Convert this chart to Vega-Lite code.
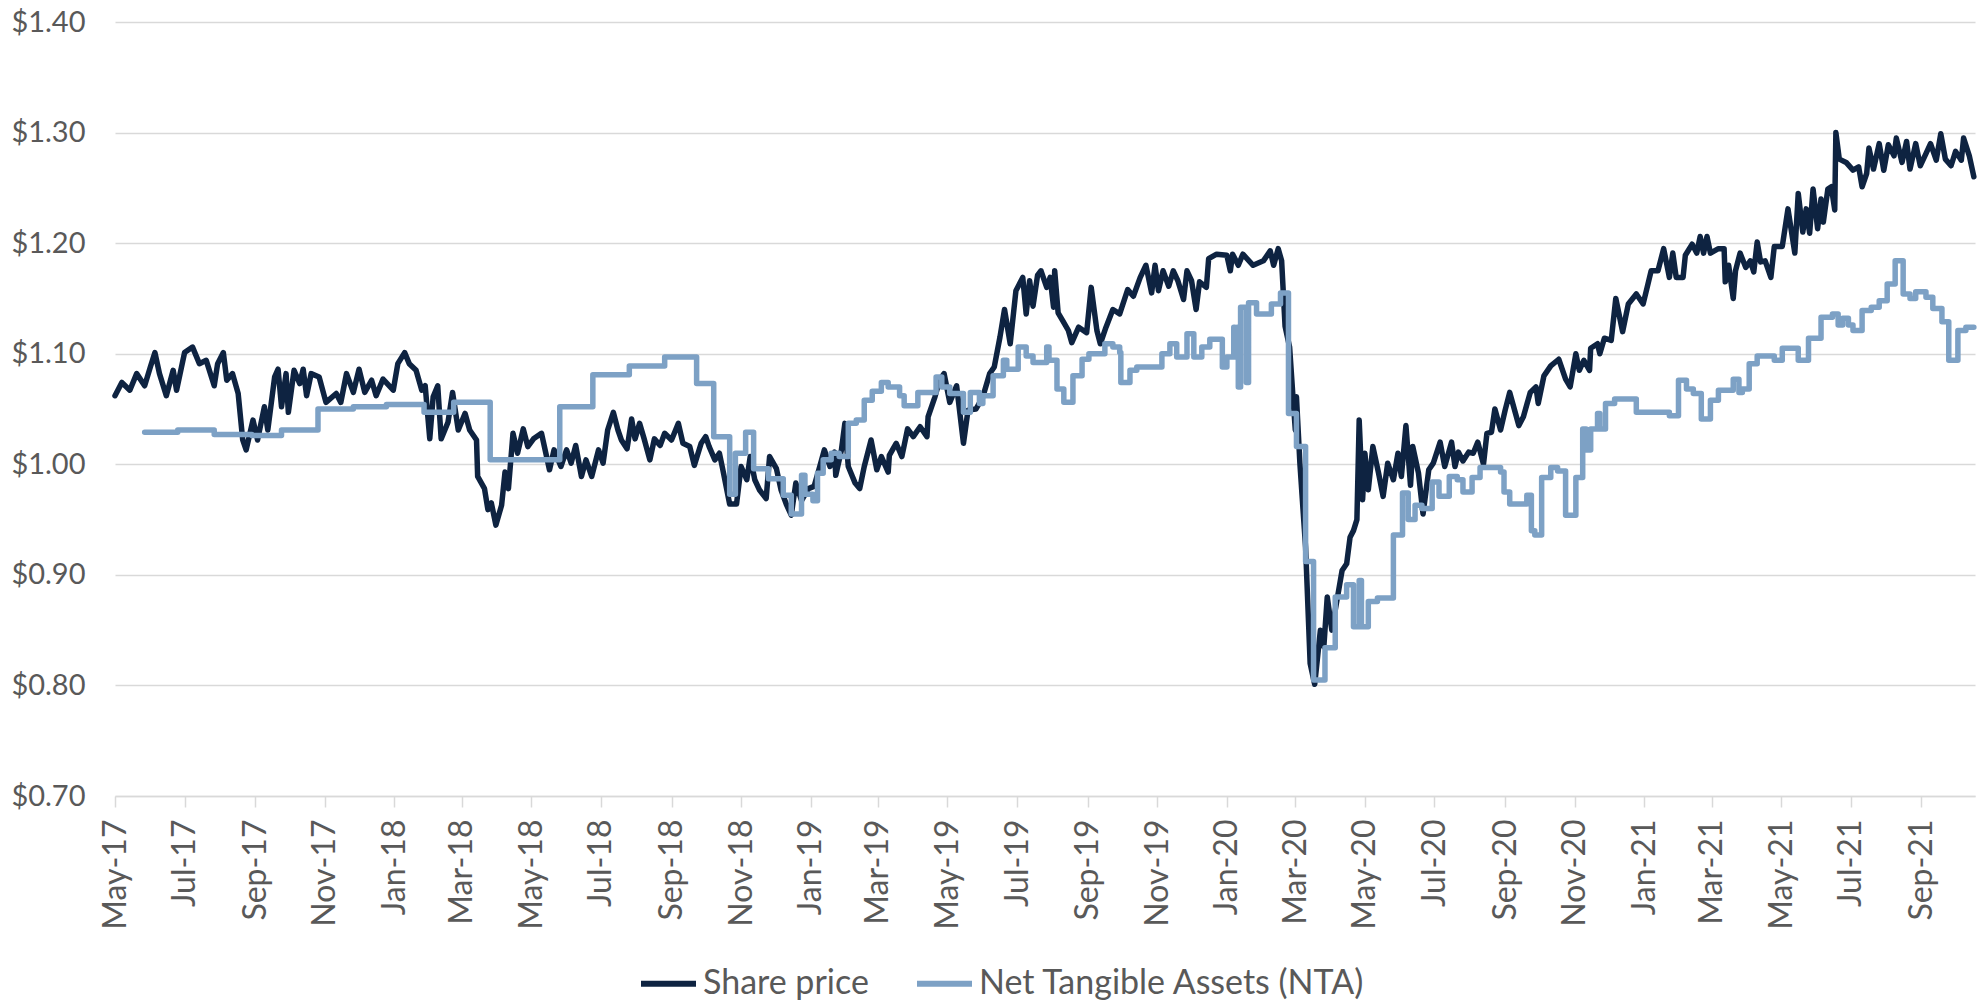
{
  "$schema": "https://vega.github.io/schema/vega-lite/v6.json",
  "width": 1860,
  "height": 774,
  "autosize": {"type": "none"},
  "padding": {"left": 115, "top": 22, "right": 2, "bottom": 209},
  "background": "white",
  "config": {"view": {"stroke": null}, "font": "Lato"},
  "datasets": {
    "share": [
      {"date":"2017-05-01","value":1.062},{"date":"2017-05-07","value":1.074},{"date":"2017-05-14","value":1.067},{"date":"2017-05-20","value":1.082},{"date":"2017-05-27","value":1.071},{"date":"2017-06-01","value":1.088},{"date":"2017-06-05","value":1.101},{"date":"2017-06-09","value":1.082},{"date":"2017-06-15","value":1.062},{"date":"2017-06-21","value":1.085},{"date":"2017-06-24","value":1.067},{"date":"2017-07-01","value":1.101},{"date":"2017-07-08","value":1.106},{"date":"2017-07-14","value":1.091},{"date":"2017-07-20","value":1.094},{"date":"2017-07-27","value":1.071},{"date":"2017-07-30","value":1.091},{"date":"2017-08-04","value":1.101},{"date":"2017-08-07","value":1.076},{"date":"2017-08-12","value":1.082},{"date":"2017-08-17","value":1.064},{"date":"2017-08-21","value":1.022},{"date":"2017-08-24","value":1.013},{"date":"2017-08-30","value":1.040},{"date":"2017-09-03","value":1.022},{"date":"2017-09-09","value":1.052},{"date":"2017-09-12","value":1.031},{"date":"2017-09-18","value":1.079},{"date":"2017-09-21","value":1.086},{"date":"2017-09-24","value":1.052},{"date":"2017-09-28","value":1.082},{"date":"2017-09-30","value":1.047},{"date":"2017-10-05","value":1.085},{"date":"2017-10-10","value":1.073},{"date":"2017-10-13","value":1.086},{"date":"2017-10-16","value":1.062},{"date":"2017-10-20","value":1.082},{"date":"2017-10-27","value":1.079},{"date":"2017-11-02","value":1.056},{"date":"2017-11-11","value":1.064},{"date":"2017-11-15","value":1.056},{"date":"2017-11-20","value":1.082},{"date":"2017-11-26","value":1.065},{"date":"2017-12-01","value":1.086},{"date":"2017-12-06","value":1.065},{"date":"2017-12-12","value":1.076},{"date":"2017-12-16","value":1.062},{"date":"2017-12-22","value":1.077},{"date":"2017-12-31","value":1.067},
      {"date":"2018-01-04","value":1.091},{"date":"2018-01-10","value":1.101},{"date":"2018-01-14","value":1.091},{"date":"2018-01-20","value":1.085},{"date":"2018-01-25","value":1.067},{"date":"2018-01-28","value":1.071},{"date":"2018-02-01","value":1.023},{"date":"2018-02-04","value":1.061},{"date":"2018-02-08","value":1.071},{"date":"2018-02-11","value":1.023},{"date":"2018-02-17","value":1.038},{"date":"2018-02-21","value":1.065},{"date":"2018-02-26","value":1.031},{"date":"2018-03-04","value":1.046},{"date":"2018-03-08","value":1.031},{"date":"2018-03-14","value":1.022},{"date":"2018-03-15","value":0.989},{"date":"2018-03-21","value":0.978},{"date":"2018-03-24","value":0.959},{"date":"2018-03-27","value":0.965},{"date":"2018-03-31","value":0.945},{"date":"2018-04-05","value":0.963},{"date":"2018-04-08","value":0.993},{"date":"2018-04-11","value":0.978},{"date":"2018-04-15","value":1.028},{"date":"2018-04-19","value":1.010},{"date":"2018-04-24","value":1.032},{"date":"2018-04-28","value":1.016},{"date":"2018-05-03","value":1.023},{"date":"2018-05-10","value":1.028},{"date":"2018-05-17","value":0.995},{"date":"2018-05-21","value":1.013},{"date":"2018-05-27","value":0.998},{"date":"2018-06-01","value":1.013},{"date":"2018-06-05","value":1.001},{"date":"2018-06-09","value":1.017},{"date":"2018-06-14","value":0.989},{"date":"2018-06-18","value":1.004},{"date":"2018-06-23","value":0.989},{"date":"2018-06-29","value":1.013},{"date":"2018-07-03","value":1.001},{"date":"2018-07-07","value":1.031},{"date":"2018-07-12","value":1.047},{"date":"2018-07-16","value":1.031},{"date":"2018-07-19","value":1.022},{"date":"2018-07-24","value":1.014},{"date":"2018-07-28","value":1.041},{"date":"2018-07-31","value":1.023},{"date":"2018-08-04","value":1.037},{"date":"2018-08-08","value":1.023},{"date":"2018-08-13","value":1.004},{"date":"2018-08-17","value":1.023},{"date":"2018-08-22","value":1.017},{"date":"2018-08-26","value":1.028},{"date":"2018-09-01","value":1.022},{"date":"2018-09-07","value":1.037},{"date":"2018-09-11","value":1.019},{"date":"2018-09-17","value":1.016},{"date":"2018-09-21","value":0.999},{"date":"2018-09-27","value":1.019},{"date":"2018-10-01","value":1.025},{"date":"2018-10-04","value":1.016},{"date":"2018-10-09","value":1.004},{"date":"2018-10-13","value":1.010},{"date":"2018-10-16","value":0.995},{"date":"2018-10-22","value":0.964},{"date":"2018-10-28","value":0.964},{"date":"2018-11-01","value":0.998},{"date":"2018-11-06","value":0.986},{"date":"2018-11-09","value":1.007},{"date":"2018-11-13","value":0.986},{"date":"2018-11-17","value":0.977},{"date":"2018-11-23","value":0.969},{"date":"2018-11-26","value":1.007},{"date":"2018-12-02","value":0.996},{"date":"2018-12-06","value":0.977},{"date":"2018-12-11","value":0.963},{"date":"2018-12-15","value":0.954},{"date":"2018-12-19","value":0.983},{"date":"2018-12-24","value":0.967},{"date":"2018-12-30","value":0.978},
      {"date":"2019-01-04","value":0.980},{"date":"2019-01-09","value":0.998},{"date":"2019-01-13","value":1.013},{"date":"2019-01-18","value":0.998},{"date":"2019-01-22","value":1.011},{"date":"2019-01-23","value":0.990},{"date":"2019-01-28","value":1.013},{"date":"2019-01-31","value":1.037},{"date":"2019-02-03","value":0.998},{"date":"2019-02-09","value":0.983},{"date":"2019-02-13","value":0.978},{"date":"2019-02-17","value":0.998},{"date":"2019-02-23","value":1.022},{"date":"2019-02-28","value":0.995},{"date":"2019-03-04","value":1.007},{"date":"2019-03-10","value":0.993},{"date":"2019-03-11","value":1.008},{"date":"2019-03-17","value":1.019},{"date":"2019-03-22","value":1.007},{"date":"2019-03-27","value":1.032},{"date":"2019-04-01","value":1.025},{"date":"2019-04-07","value":1.034},{"date":"2019-04-13","value":1.025},{"date":"2019-04-14","value":1.043},{"date":"2019-04-20","value":1.061},{"date":"2019-04-24","value":1.076},{"date":"2019-04-28","value":1.082},{"date":"2019-05-03","value":1.056},{"date":"2019-05-09","value":1.071},{"date":"2019-05-15","value":1.019},{"date":"2019-05-19","value":1.049},{"date":"2019-05-26","value":1.050},{"date":"2019-06-01","value":1.061},{"date":"2019-06-07","value":1.082},{"date":"2019-06-11","value":1.088},{"date":"2019-06-16","value":1.115},{"date":"2019-06-20","value":1.140},{"date":"2019-06-25","value":1.109},{"date":"2019-06-30","value":1.157},{"date":"2019-07-06","value":1.169},{"date":"2019-07-09","value":1.136},{"date":"2019-07-12","value":1.166},{"date":"2019-07-15","value":1.143},{"date":"2019-07-19","value":1.171},{"date":"2019-07-22","value":1.175},{"date":"2019-07-27","value":1.160},{"date":"2019-07-30","value":1.169},{"date":"2019-08-02","value":1.142},{"date":"2019-08-03","value":1.175},{"date":"2019-08-06","value":1.137},{"date":"2019-08-10","value":1.130},{"date":"2019-08-15","value":1.121},{"date":"2019-08-18","value":1.110},{"date":"2019-08-24","value":1.124},{"date":"2019-08-31","value":1.119},{"date":"2019-09-04","value":1.160},{"date":"2019-09-09","value":1.121},{"date":"2019-09-12","value":1.109},{"date":"2019-09-17","value":1.124},{"date":"2019-09-23","value":1.140},{"date":"2019-09-29","value":1.136},{"date":"2019-10-06","value":1.158},{"date":"2019-10-11","value":1.152},{"date":"2019-10-17","value":1.169},{"date":"2019-10-22","value":1.180},{"date":"2019-10-27","value":1.155},{"date":"2019-10-30","value":1.180},{"date":"2019-11-02","value":1.157},{"date":"2019-11-06","value":1.175},{"date":"2019-11-11","value":1.161},{"date":"2019-11-15","value":1.175},{"date":"2019-11-19","value":1.166},{"date":"2019-11-24","value":1.149},{"date":"2019-11-27","value":1.175},{"date":"2019-12-01","value":1.166},{"date":"2019-12-05","value":1.140},{"date":"2019-12-08","value":1.165},{"date":"2019-12-14","value":1.160},{"date":"2019-12-16","value":1.186},{"date":"2019-12-23","value":1.190},
      {"date":"2020-01-01","value":1.189},{"date":"2020-01-04","value":1.175},{"date":"2020-01-06","value":1.190},{"date":"2020-01-11","value":1.180},{"date":"2020-01-15","value":1.190},{"date":"2020-01-24","value":1.180},{"date":"2020-02-02","value":1.184},{"date":"2020-02-08","value":1.193},{"date":"2020-02-11","value":1.180},{"date":"2020-02-15","value":1.195},{"date":"2020-02-18","value":1.184},{"date":"2020-02-21","value":1.125},{"date":"2020-02-25","value":1.106},{"date":"2020-02-28","value":1.060},{"date":"2020-03-01","value":1.031},{"date":"2020-03-02","value":1.061},{"date":"2020-03-05","value":1.001},{"date":"2020-03-10","value":0.925},{"date":"2020-03-14","value":0.820},{"date":"2020-03-18","value":0.801},{"date":"2020-03-23","value":0.850},{"date":"2020-03-26","value":0.835},{"date":"2020-03-29","value":0.880},{"date":"2020-04-02","value":0.850},{"date":"2020-04-06","value":0.874},{"date":"2020-04-11","value":0.904},{"date":"2020-04-15","value":0.910},{"date":"2020-04-18","value":0.934},{"date":"2020-04-21","value":0.940},{"date":"2020-04-24","value":0.950},{"date":"2020-04-26","value":1.040},{"date":"2020-04-29","value":0.968},{"date":"2020-05-01","value":1.010},{"date":"2020-05-04","value":0.977},{"date":"2020-05-08","value":1.016},{"date":"2020-05-13","value":0.992},{"date":"2020-05-17","value":0.971},{"date":"2020-05-21","value":1.001},{"date":"2020-05-26","value":0.986},{"date":"2020-05-30","value":1.010},{"date":"2020-06-02","value":0.989},{"date":"2020-06-06","value":1.035},{"date":"2020-06-10","value":0.981},{"date":"2020-06-12","value":1.016},{"date":"2020-06-17","value":0.992},{"date":"2020-06-21","value":0.955},{"date":"2020-06-26","value":0.995},{"date":"2020-06-30","value":1.001},{"date":"2020-07-06","value":1.020},{"date":"2020-07-10","value":0.998},{"date":"2020-07-16","value":1.020},{"date":"2020-07-19","value":0.998},{"date":"2020-07-22","value":1.011},{"date":"2020-07-26","value":1.003},{"date":"2020-07-31","value":1.011},{"date":"2020-08-04","value":1.010},{"date":"2020-08-08","value":1.020},{"date":"2020-08-13","value":1.000},{"date":"2020-08-16","value":1.028},{"date":"2020-08-20","value":1.029},{"date":"2020-08-23","value":1.050},{"date":"2020-08-28","value":1.031},{"date":"2020-09-01","value":1.049},{"date":"2020-09-05","value":1.065},{"date":"2020-09-13","value":1.035},{"date":"2020-09-17","value":1.043},{"date":"2020-09-23","value":1.065},{"date":"2020-09-28","value":1.070},{"date":"2020-09-30","value":1.055},{"date":"2020-10-05","value":1.080},{"date":"2020-10-11","value":1.089},{"date":"2020-10-18","value":1.095},{"date":"2020-10-24","value":1.077},{"date":"2020-10-28","value":1.070},{"date":"2020-11-02","value":1.100},{"date":"2020-11-05","value":1.085},{"date":"2020-11-09","value":1.094},{"date":"2020-11-14","value":1.085},{"date":"2020-11-15","value":1.105},{"date":"2020-11-21","value":1.109},{"date":"2020-11-23","value":1.100},{"date":"2020-11-27","value":1.114},{"date":"2020-12-03","value":1.112},{"date":"2020-12-07","value":1.150},{"date":"2020-12-13","value":1.120},{"date":"2020-12-18","value":1.145},{"date":"2020-12-25","value":1.154},{"date":"2020-12-31","value":1.145},
      {"date":"2021-01-04","value":1.162},{"date":"2021-01-07","value":1.175},{"date":"2021-01-13","value":1.175},{"date":"2021-01-18","value":1.195},{"date":"2021-01-23","value":1.169},{"date":"2021-01-26","value":1.191},{"date":"2021-01-29","value":1.169},{"date":"2021-02-04","value":1.169},{"date":"2021-02-06","value":1.189},{"date":"2021-02-12","value":1.199},{"date":"2021-02-16","value":1.191},{"date":"2021-02-19","value":1.206},{"date":"2021-02-22","value":1.191},{"date":"2021-02-25","value":1.206},{"date":"2021-02-28","value":1.191},{"date":"2021-03-07","value":1.195},{"date":"2021-03-12","value":1.195},{"date":"2021-03-13","value":1.165},{"date":"2021-03-16","value":1.180},{"date":"2021-03-20","value":1.150},{"date":"2021-03-22","value":1.175},{"date":"2021-03-26","value":1.191},{"date":"2021-03-31","value":1.178},{"date":"2021-04-04","value":1.184},{"date":"2021-04-07","value":1.174},{"date":"2021-04-10","value":1.201},{"date":"2021-04-13","value":1.183},{"date":"2021-04-17","value":1.184},{"date":"2021-04-22","value":1.169},{"date":"2021-04-25","value":1.197},{"date":"2021-05-02","value":1.197},{"date":"2021-05-07","value":1.231},{"date":"2021-05-13","value":1.191},{"date":"2021-05-16","value":1.245},{"date":"2021-05-20","value":1.210},{"date":"2021-05-23","value":1.231},{"date":"2021-05-26","value":1.209},{"date":"2021-05-29","value":1.249},{"date":"2021-06-02","value":1.213},{"date":"2021-06-05","value":1.240},{"date":"2021-06-07","value":1.219},{"date":"2021-06-11","value":1.249},{"date":"2021-06-14","value":1.251},{"date":"2021-06-17","value":1.230},{"date":"2021-06-18","value":1.300},{"date":"2021-06-21","value":1.276},{"date":"2021-06-27","value":1.273},{"date":"2021-07-03","value":1.266},{"date":"2021-07-08","value":1.269},{"date":"2021-07-11","value":1.251},{"date":"2021-07-15","value":1.263},{"date":"2021-07-17","value":1.286},{"date":"2021-07-21","value":1.267},{"date":"2021-07-26","value":1.290},{"date":"2021-07-30","value":1.266},{"date":"2021-08-03","value":1.289},{"date":"2021-08-08","value":1.279},{"date":"2021-08-10","value":1.295},{"date":"2021-08-15","value":1.273},{"date":"2021-08-19","value":1.292},{"date":"2021-08-22","value":1.267},{"date":"2021-08-27","value":1.290},{"date":"2021-08-31","value":1.270},{"date":"2021-09-05","value":1.281},{"date":"2021-09-09","value":1.290},{"date":"2021-09-14","value":1.275},{"date":"2021-09-18","value":1.299},{"date":"2021-09-22","value":1.276},{"date":"2021-09-27","value":1.270},{"date":"2021-10-01","value":1.283},{"date":"2021-10-06","value":1.275},{"date":"2021-10-08","value":1.295},{"date":"2021-10-13","value":1.279},{"date":"2021-10-17","value":1.260}
    ],
    "nta": [
      {"date":"2017-05-27","value":1.029},{"date":"2017-06-25","value":1.031},{"date":"2017-07-27","value":1.027},{"date":"2017-08-29","value":1.026},{"date":"2017-09-24","value":1.031},{"date":"2017-10-26","value":1.050},{"date":"2017-11-26","value":1.052},{"date":"2017-12-25","value":1.054},{"date":"2018-01-27","value":1.047},{"date":"2018-02-22","value":1.056},{"date":"2018-03-26","value":1.004},{"date":"2018-05-26","value":1.052},{"date":"2018-06-24","value":1.081},{"date":"2018-07-26","value":1.089},{"date":"2018-08-26","value":1.097},{"date":"2018-09-23","value":1.073},{"date":"2018-10-08","value":1.025},{"date":"2018-10-22","value":0.973},{"date":"2018-10-27","value":1.010},{"date":"2018-11-05","value":1.029},{"date":"2018-11-12","value":0.996},{"date":"2018-11-25","value":0.987},{"date":"2018-12-08","value":0.972},{"date":"2018-12-15","value":0.955},{"date":"2018-12-24","value":0.990},{"date":"2018-12-27","value":0.973},
      {"date":"2019-01-03","value":0.967},{"date":"2019-01-07","value":0.992},{"date":"2019-01-12","value":1.004},{"date":"2019-01-19","value":1.010},{"date":"2019-01-26","value":1.007},{"date":"2019-02-03","value":1.037},{"date":"2019-02-10","value":1.040},{"date":"2019-02-17","value":1.058},{"date":"2019-02-24","value":1.066},{"date":"2019-03-04","value":1.074},{"date":"2019-03-10","value":1.070},{"date":"2019-03-20","value":1.062},{"date":"2019-03-24","value":1.053},{"date":"2019-04-05","value":1.065},{"date":"2019-04-21","value":1.079},{"date":"2019-04-26","value":1.070},{"date":"2019-05-03","value":1.064},{"date":"2019-05-15","value":1.047},{"date":"2019-05-21","value":1.065},{"date":"2019-05-29","value":1.055},{"date":"2019-06-01","value":1.062},{"date":"2019-06-10","value":1.080},{"date":"2019-06-19","value":1.094},{"date":"2019-06-22","value":1.086},{"date":"2019-07-02","value":1.106},{"date":"2019-07-09","value":1.098},{"date":"2019-07-15","value":1.092},{"date":"2019-07-27","value":1.106},{"date":"2019-07-29","value":1.094},{"date":"2019-08-05","value":1.068},{"date":"2019-08-11","value":1.056},{"date":"2019-08-19","value":1.080},{"date":"2019-08-27","value":1.095},{"date":"2019-09-02","value":1.100},{"date":"2019-09-16","value":1.109},{"date":"2019-09-23","value":1.106},{"date":"2019-09-29","value":1.101},{"date":"2019-09-30","value":1.074},{"date":"2019-10-08","value":1.085},{"date":"2019-10-14","value":1.088},{"date":"2019-11-05","value":1.100},{"date":"2019-11-12","value":1.109},{"date":"2019-11-18","value":1.097},{"date":"2019-11-27","value":1.118},{"date":"2019-12-03","value":1.097},{"date":"2019-12-10","value":1.106},{"date":"2019-12-17","value":1.113},{"date":"2019-12-28","value":1.088},
      {"date":"2020-01-01","value":1.097},{"date":"2020-01-07","value":1.124},{"date":"2020-01-08","value":1.097},{"date":"2020-01-10","value":1.124},{"date":"2020-01-11","value":1.070},{"date":"2020-01-13","value":1.142},{"date":"2020-01-18","value":1.074},{"date":"2020-01-20","value":1.146},{"date":"2020-01-27","value":1.136},{"date":"2020-02-09","value":1.145},{"date":"2020-02-17","value":1.155},{"date":"2020-02-24","value":1.046},{"date":"2020-03-02","value":1.016},{"date":"2020-03-10","value":0.912},{"date":"2020-03-17","value":0.805},{"date":"2020-03-27","value":0.834},{"date":"2020-04-05","value":0.880},{"date":"2020-04-15","value":0.891},{"date":"2020-04-21","value":0.853},{"date":"2020-04-26","value":0.895},{"date":"2020-04-28","value":0.853},{"date":"2020-05-04","value":0.876},{"date":"2020-05-12","value":0.879},{"date":"2020-05-26","value":0.936},{"date":"2020-06-03","value":0.974},{"date":"2020-06-08","value":0.950},{"date":"2020-06-14","value":0.963},{"date":"2020-06-20","value":0.960},{"date":"2020-06-29","value":0.984},{"date":"2020-07-05","value":0.971},{"date":"2020-07-14","value":0.989},{"date":"2020-07-21","value":0.986},{"date":"2020-07-26","value":0.975},{"date":"2020-08-03","value":0.988},{"date":"2020-08-10","value":0.997},{"date":"2020-08-28","value":0.993},{"date":"2020-08-31","value":0.975},{"date":"2020-09-05","value":0.964},{"date":"2020-09-20","value":0.972},{"date":"2020-09-24","value":0.940},{"date":"2020-09-27","value":0.936},{"date":"2020-10-03","value":0.988},{"date":"2020-10-11","value":0.997},{"date":"2020-10-17","value":0.994},{"date":"2020-10-24","value":0.954},{"date":"2020-11-02","value":0.988},{"date":"2020-11-08","value":1.032},{"date":"2020-11-11","value":1.013},{"date":"2020-11-15","value":1.032},{"date":"2020-11-21","value":1.046},{"date":"2020-11-23","value":1.032},{"date":"2020-11-28","value":1.055},{"date":"2020-12-06","value":1.059},{"date":"2020-12-25","value":1.047},
      {"date":"2021-01-23","value":1.044},{"date":"2021-01-31","value":1.076},{"date":"2021-02-07","value":1.068},{"date":"2021-02-13","value":1.064},{"date":"2021-02-20","value":1.041},{"date":"2021-02-28","value":1.058},{"date":"2021-03-07","value":1.067},{"date":"2021-03-20","value":1.077},{"date":"2021-03-25","value":1.065},{"date":"2021-03-28","value":1.068},{"date":"2021-04-03","value":1.091},{"date":"2021-04-10","value":1.098},{"date":"2021-04-25","value":1.094},{"date":"2021-05-02","value":1.105},{"date":"2021-05-16","value":1.094},{"date":"2021-05-25","value":1.114},{"date":"2021-06-05","value":1.133},{"date":"2021-06-15","value":1.136},{"date":"2021-06-20","value":1.126},{"date":"2021-06-24","value":1.132},{"date":"2021-06-29","value":1.126},{"date":"2021-07-03","value":1.121},{"date":"2021-07-11","value":1.139},{"date":"2021-07-19","value":1.142},{"date":"2021-07-26","value":1.148},{"date":"2021-08-02","value":1.163},{"date":"2021-08-09","value":1.184},{"date":"2021-08-16","value":1.154},{"date":"2021-08-22","value":1.150},{"date":"2021-08-27","value":1.156},{"date":"2021-09-05","value":1.151},{"date":"2021-09-11","value":1.141},{"date":"2021-09-19","value":1.129},{"date":"2021-09-25","value":1.094},{"date":"2021-10-03","value":1.121},{"date":"2021-10-10","value":1.124},{"date":"2021-10-17","value":1.124}
    ]
  },
  "encoding": {
    "x": {
      "field": "date",
      "type": "temporal",
      "scale": {
        "type": "utc",
        "domain": [
          {"year": 2017, "month": 5, "date": 1, "utc": true},
          {"year": 2021, "month": 10, "date": 18, "utc": true}
        ]
      },
      "axis": {
        "title": null,
        "grid": false,
        "values": [
          {"year":2017,"month":5,"date":1,"utc":true},{"year":2017,"month":7,"date":1,"utc":true},{"year":2017,"month":9,"date":1,"utc":true},{"year":2017,"month":11,"date":1,"utc":true},
          {"year":2018,"month":1,"date":1,"utc":true},{"year":2018,"month":3,"date":1,"utc":true},{"year":2018,"month":5,"date":1,"utc":true},{"year":2018,"month":7,"date":1,"utc":true},{"year":2018,"month":9,"date":1,"utc":true},{"year":2018,"month":11,"date":1,"utc":true},
          {"year":2019,"month":1,"date":1,"utc":true},{"year":2019,"month":3,"date":1,"utc":true},{"year":2019,"month":5,"date":1,"utc":true},{"year":2019,"month":7,"date":1,"utc":true},{"year":2019,"month":9,"date":1,"utc":true},{"year":2019,"month":11,"date":1,"utc":true},
          {"year":2020,"month":1,"date":1,"utc":true},{"year":2020,"month":3,"date":1,"utc":true},{"year":2020,"month":5,"date":1,"utc":true},{"year":2020,"month":7,"date":1,"utc":true},{"year":2020,"month":9,"date":1,"utc":true},{"year":2020,"month":11,"date":1,"utc":true},
          {"year":2021,"month":1,"date":1,"utc":true},{"year":2021,"month":3,"date":1,"utc":true},{"year":2021,"month":5,"date":1,"utc":true},{"year":2021,"month":7,"date":1,"utc":true},{"year":2021,"month":9,"date":1,"utc":true}
        ],
        "format": "%b-%y",
        "labelAngle": -90,
        "labelOverlap": false,
        "labelFontSize": 32,
        "labelColor": "#595959",
        "labelPadding": 12,
        "tickSize": 11,
        "tickColor": "#D9D9D9",
        "tickWidth": 1.5,
        "domainColor": "#D9D9D9",
        "domainWidth": 1.5
      }
    },
    "y": {
      "field": "value",
      "type": "quantitative",
      "scale": {"domain": [0.7, 1.4], "nice": false, "zero": false},
      "axis": {
        "title": null,
        "values": [0.7, 0.8, 0.9, 1.0, 1.1, 1.2, 1.3, 1.4],
        "format": "$.2f",
        "grid": true,
        "gridColor": "#D9D9D9",
        "gridWidth": 1.5,
        "domain": false,
        "ticks": false,
        "tickSize": 0,
        "labelPadding": 30,
        "labelFontSize": 29,
        "labelColor": "#595959"
      }
    }
  },
  "layer": [
    {
      "data": {"name": "share"},
      "mark": {"type": "line", "strokeWidth": 5.5, "strokeJoin": "round", "strokeCap": "round"},
      "encoding": {
        "color": {
          "datum": "Share price",
          "type": "nominal",
          "scale": {
            "domain": ["Share price", "Net Tangible Assets (NTA)"],
            "range": ["#0E2341", "#7DA1C5"]
          },
          "legend": {
            "title": null,
            "orient": "none",
            "legendX": 523,
            "legendY": 931,
            "direction": "horizontal",
            "padding": 0,
            "symbolType": "stroke",
            "symbolSize": 3025,
            "symbolStrokeWidth": 6,
            "labelFontSize": 34,
            "labelColor": "#595959",
            "labelOffset": 4,
            "labelLimit": 1000,
            "columnPadding": 36
          }
        }
      }
    },
    {
      "data": {"name": "nta"},
      "mark": {"type": "line", "interpolate": "step-after", "strokeWidth": 5.5, "strokeJoin": "round", "strokeCap": "round"},
      "encoding": {
        "color": {
          "datum": "Net Tangible Assets (NTA)",
          "type": "nominal"
        }
      }
    }
  ]
}
